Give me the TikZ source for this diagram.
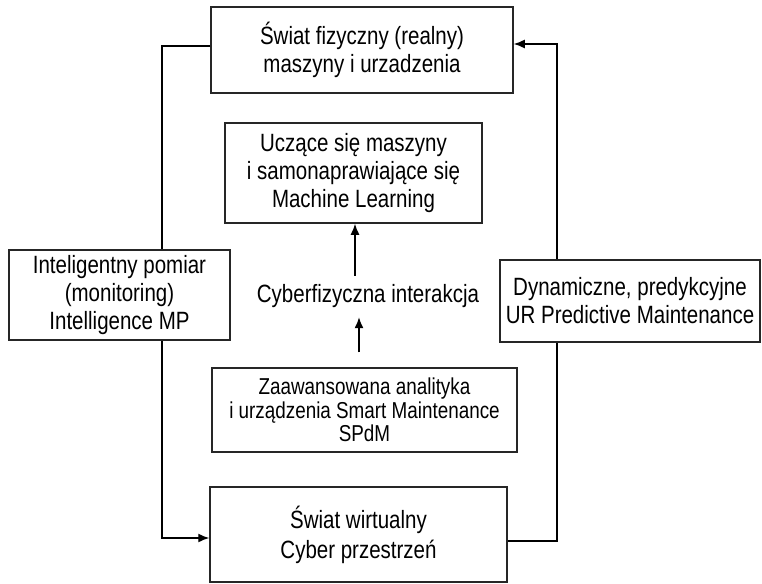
\documentclass[tikz,border=0pt]{standalone}
\usepackage{fontspec}
\setmainfont{Liberation Sans}[FakeStretch=0.82]
\usepackage{tikz}
\usetikzlibrary{arrows.meta}

\begin{document}
\begin{tikzpicture}[x=1pt,y=-1pt,
    box/.style={draw=black!85,line width=1.5pt,fill=white,align=center,
      font=\fontsize{25}{28}\selectfont,inner sep=0pt},
    link/.style={line width=1.4pt},
    arr/.style={link,-{Latex[length=11pt,width=9pt]}}]
  \useasboundingbox (0,0) rectangle (762,583);

  % Boxes
  \node[box,minimum width=302,minimum height=86] (phys) at (362,50)
    {Świat fizyczny (realny)\\maszyny i urzadzenia};
  \node[box,minimum width=257,minimum height=100] (learn) at (353.5,173)
    {Uczące się maszyny\\i samonaprawiające się\\Machine Learning};
  \node[align=center,font=\fontsize{25}{28}\selectfont,inner sep=0pt,
    minimum height=41] (cyber) at (368,296.5) {Cyberfizyczna interakcja};
  \node[box,minimum width=305,minimum height=84,font=\fontsize{23}{23.5}\selectfont]
    (analyt) at (364.5,410)
    {Zaawansowana analityka\\ i urządzenia Smart Maintenance\\SPdM};
  \node[box,minimum width=297,minimum height=95,font=\fontsize{25}{30}\selectfont]
    (virt) at (358.5,534.5) {Świat wirtualny\\Cyber przestrzeń};
  \node[box,minimum width=221,minimum height=90] (monit) at (119.5,295)
    {Inteligentny pomiar\\(monitoring)\\Intelligence MP};
  \node[box,minimum width=260,minimum height=82] (dyn) at (630,301)
    {Dynamiczne, predykcyjne\\UR Predictive Maintenance};

  % Corners of the loop
  \coordinate (lt) at (162,46);
  \coordinate (lb) at (162,538);
  \coordinate (rt) at (557,44);
  \coordinate (rb) at (557,541);

  % Loop
  \draw[link] (phys.west |- lt) -- (lt) -- (lt |- monit.north);
  \draw[arr] (lt |- monit.south) -- (lb) -- (lb -| virt.west);
  \draw[link] (virt.east |- rb) -- (rb) -- (rb |- dyn.south);
  \draw[arr] (rb |- dyn.north) -- (rt) -- (rt -| phys.east);

  % Middle arrows
  \draw[arr] ([xshift=-13pt]cyber.north) -- ([xshift=-13pt]cyber.north |- learn.south);
  \draw[arr,shorten <=15pt] ([xshift=-9pt]cyber.south |- analyt.north) -- ([xshift=-9pt]cyber.south);
\end{tikzpicture}
\end{document}
